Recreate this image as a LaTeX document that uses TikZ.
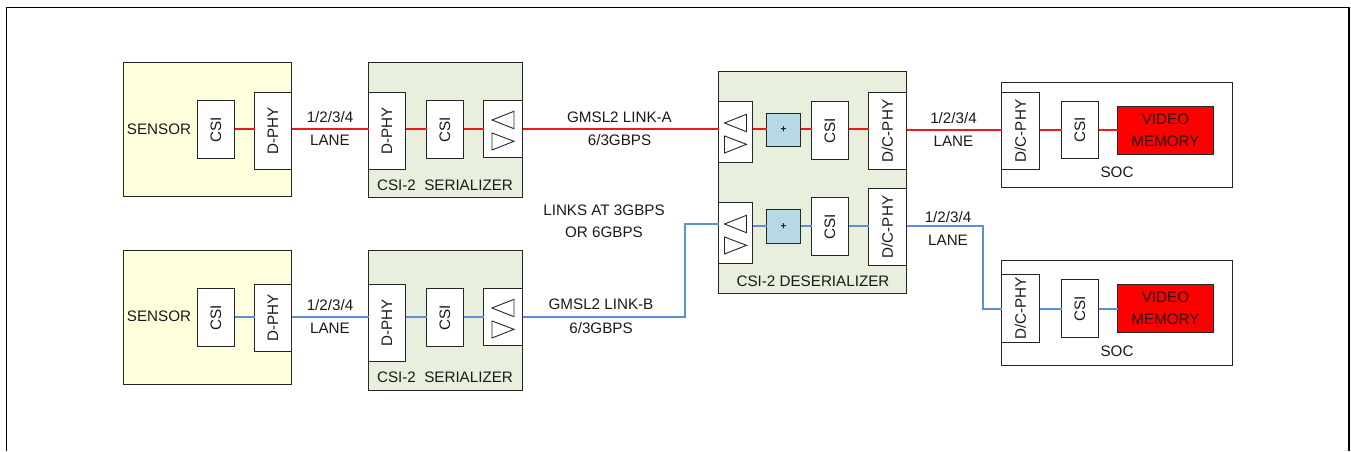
\documentclass[tikz,border=0pt]{standalone}
\usepackage{fontspec}
\setmainfont{Liberation Sans}
\definecolor{sensorfill}{HTML}{FFFFDD}
\definecolor{serfill}{HTML}{E8EFDD}
\definecolor{plusfill}{HTML}{B7D9E6}
\definecolor{edge}{HTML}{262626}
\definecolor{txt}{HTML}{1A1A1A}
\definecolor{redline}{HTML}{F01818}
\definecolor{blueline}{HTML}{5B90D8}
\tikzset{
  blockbox/.style={draw=edge,line width=1.2pt,inner sep=0pt,outer sep=0pt,text=txt,align=center},
  whitebox/.style={blockbox,fill=white},
  sensorbox/.style={blockbox,fill=sensorfill},
  serbox/.style={blockbox,fill=serfill},
  plusbox/.style={blockbox,fill=plusfill},
  membox/.style={blockbox,fill=red},
  lbl/.style={inner sep=0pt,outer sep=0pt,text=txt,align=center},
  redwire/.style={draw=redline,line width=1.6pt},
  bluewire/.style={draw=blueline,line width=1.6pt},
  trishape/.style={draw=edge,line width=.9pt,line join=miter},
}
% name, x1, y1, x2, y2, style, text  (edges snapped to pixel centres)
\newcommand{\blk}[7]{%
  \pgfmathsetmacro{\xa}{floor(#2)+.5}\pgfmathsetmacro{\xb}{floor(#4)+.5}%
  \pgfmathsetmacro{\ya}{floor(#3)+.5}\pgfmathsetmacro{\yb}{floor(#5)+.5}%
  \pgfmathsetmacro{\bw}{\xb-\xa}\pgfmathsetmacro{\bh}{\yb-\ya}%
  \node[#6,minimum width=\bw pt,minimum height=\bh pt] (#1) at ({(\xa+\xb)/2},{(\ya+\yb)/2}) {#7};}
\newcommand{\vtxt}[1]{\rotatebox{90}{#1}}
% triangle pair: offsets around the centre of the named box
\newcommand{\tripair}[1]{%
  \draw[trishape] ([shift={(-11,-9)}]#1.center) -- ([shift={(11,-17.7)}]#1.center) -- ([shift={(11,-.3)}]#1.center) -- cycle;
  \draw[trishape] ([shift={(-11,4)}]#1.center) -- ([shift={(11,12.3)}]#1.center) -- ([shift={(-11,21)}]#1.center) -- cycle;}
\begin{document}
\begin{tikzpicture}[x=1pt,y=-1pt,font=\fontsize{15.2}{18}\selectfont]
\useasboundingbox (0,0) rectangle (1351,451);
\coordinate (fa) at (6.5,451); \coordinate (fb) at (6.5,7.5); \coordinate (fc) at (1349,7.5); \coordinate (fd) at (1349,451);
\draw[black,line width=1.4pt] (fa) -- (fb) -- (fc) -- (fd);

% y levels of the wires
\coordinate (ya) at (0,129);
\coordinate (yb) at (0,317);
\coordinate (yc) at (0,224);
\coordinate (yd) at (0,226);
\coordinate (ye) at (0,130);
\coordinate (yf) at (0,309);
\coordinate (xb) at (685,0);
\coordinate (xd) at (983,0);

% containers
\blk{sensA}{123.5}{62.5}{291.7}{196}{sensorbox}{}
\blk{serA}{368.7}{62.5}{522.3}{197.7}{serbox}{}
\blk{sensB}{123.5}{250}{291.7}{384.3}{sensorbox}{}
\blk{serB}{368.7}{250}{522.3}{390}{serbox}{}
\blk{des}{718.3}{71.7}{906.3}{293.3}{serbox}{}
\blk{socA}{1001.7}{82}{1232.3}{187.3}{whitebox}{}
\blk{socB}{1001.7}{260.3}{1232.3}{365.7}{whitebox}{}

% top row blocks
\blk{sAcsi}{197}{100}{234.3}{158}{whitebox}{\vtxt{CSI}}
\blk{sAphy}{254.5}{92.5}{291.7}{169}{whitebox}{\vtxt{D-PHY}}
\blk{rAphy}{368.7}{92.5}{405.7}{169}{whitebox}{\vtxt{D-PHY}}
\blk{rAcsi}{426.3}{100}{463.3}{158}{whitebox}{\vtxt{CSI}}
\blk{rAtri}{483.7}{100}{522.3}{157}{whitebox}{}
\blk{dAtri}{718.3}{101.7}{752.7}{162.3}{whitebox}{}
\blk{dAplus}{766.3}{113}{800.3}{146.7}{plusbox}{\fontsize{10}{12}\selectfont\bfseries +}
\blk{dAcsi}{811.3}{101}{848.3}{159}{whitebox}{\vtxt{CSI}}
\blk{dAphy}{868.3}{92.3}{906.3}{169}{whitebox}{\vtxt{D/C-PHY}}
\blk{cAphy}{1001.7}{92}{1039}{169}{whitebox}{\vtxt{D/C-PHY}}
\blk{cAcsi}{1061.3}{101}{1098}{158.7}{whitebox}{\vtxt{CSI}}
\blk{cAmem}{1117}{106.7}{1213.3}{154.7}{membox}{VIDEO\\[3.5pt]MEMORY}

% bottom row blocks
\blk{sBcsi}{197}{288.3}{234.3}{346}{whitebox}{\vtxt{CSI}}
\blk{sBphy}{254.5}{284.3}{291.7}{351.3}{whitebox}{\vtxt{D-PHY}}
\blk{rBphy}{368.7}{284.3}{405.7}{361}{whitebox}{\vtxt{D-PHY}}
\blk{rBcsi}{426.3}{288.3}{463.3}{346}{whitebox}{\vtxt{CSI}}
\blk{rBtri}{483.7}{288.3}{522.3}{345.7}{whitebox}{}
\blk{dBtri}{718.3}{202.7}{752.7}{263.7}{whitebox}{}
\blk{dBplus}{766.3}{209.7}{800.3}{243.7}{plusbox}{\fontsize{10}{12}\selectfont\bfseries +}
\blk{dBcsi}{811.3}{197.7}{848.3}{255.3}{whitebox}{\vtxt{CSI}}
\blk{dBphy}{868.3}{188.3}{906.3}{265}{whitebox}{\vtxt{D/C-PHY}}
\blk{cBphy}{1001.7}{274.7}{1039}{342}{whitebox}{\vtxt{D/C-PHY}}
\blk{cBcsi}{1061.3}{279.3}{1098}{337.3}{whitebox}{\vtxt{CSI}}
\blk{cBmem}{1117}{284.3}{1213.3}{332.3}{membox}{VIDEO\\[3.5pt]MEMORY}

\tripair{rAtri}\tripair{rBtri}\tripair{dAtri}\tripair{dBtri}

% red wires
\draw[redwire] (sAcsi.east|-ya) -- (sAphy.west|-ya);
\draw[redwire] (sAphy.east|-ya) -- (rAphy.west|-ya);
\draw[redwire] (rAphy.east|-ya) -- (rAcsi.west|-ya);
\draw[redwire] (rAcsi.east|-ya) -- (rAtri.west|-ya);
\draw[redwire] (rAtri.east|-ya) -- (dAtri.west|-ya);
\draw[redwire] (dAtri.east|-ya) -- (dAplus.west|-ya);
\draw[redwire] (dAplus.east|-ya) -- (dAcsi.west|-ya);
\draw[redwire] (dAcsi.east|-ya) -- (dAphy.west|-ya);
\draw[redwire] (dAphy.east|-ye) -- (cAphy.west|-ye);
\draw[redwire] (cAphy.east|-ye) -- (cAcsi.west|-ye);
\draw[redwire] (cAcsi.east|-ye) -- (cAmem.west|-ye);

% blue wires
\draw[bluewire] (sBcsi.east|-yb) -- (sBphy.west|-yb);
\draw[bluewire] (sBphy.east|-yb) -- (rBphy.west|-yb);
\draw[bluewire] (rBphy.east|-yb) -- (rBcsi.west|-yb);
\draw[bluewire] (rBcsi.east|-yb) -- (rBtri.west|-yb);
\draw[bluewire] (rBtri.east|-yb) -- (xb|-yb) -- (xb|-yc) -- (dBtri.west|-yc);
\draw[bluewire] (dBtri.east|-yd) -- (dBplus.west|-yd);
\draw[bluewire] (dBplus.east|-yd) -- (dBcsi.west|-yd);
\draw[bluewire] (dBcsi.east|-yd) -- (dBphy.west|-yd);
\draw[bluewire] (dBphy.east|-yd) -- (xd|-yd) -- (xd|-yf) -- (cBphy.west|-yf);
\draw[bluewire] (cBphy.east|-yf) -- (cBcsi.west|-yf);
\draw[bluewire] (cBcsi.east|-yf) -- (cBmem.west|-yf);

% labels
\node[lbl] (l1) at (159,129) {SENSOR};
\node[lbl] (l2) at (159,316.5) {SENSOR};
\node[lbl] (l3) at (445,185.5) {CSI-2\hspace{.55em}SERIALIZER};
\node[lbl] (l4) at (445,377.5) {CSI-2\hspace{.55em}SERIALIZER};
\node[lbl] (l5) at (813,281) {CSI-2 DESERIALIZER};
\node[lbl] (l6) at (1117,172.5) {SOC};
\node[lbl] (l7) at (1117,351.5) {SOC};
\node[lbl] (l8) at (330,117.5) {1/2/3/4};
\node[lbl] (l9) at (330,140) {LANE};
\node[lbl] (l10) at (330,305) {1/2/3/4};
\node[lbl] (l11) at (330,328) {LANE};
\node[lbl] (l12) at (619.5,117.5) {GMSL2 LINK-A};
\node[lbl] (l13) at (619.5,140.5) {6/3GBPS};
\node[lbl] (l14) at (604,210) {LINKS AT 3GBPS};
\node[lbl] (l15) at (604,232.5) {OR 6GBPS};
\node[lbl] (l16) at (601,304.5) {GMSL2 LINK-B};
\node[lbl] (l17) at (601,328) {6/3GBPS};
\node[lbl] (l18) at (953.5,118.5) {1/2/3/4};
\node[lbl] (l19) at (953.5,141) {LANE};
\node[lbl] (l20) at (948,217.5) {1/2/3/4};
\node[lbl] (l21) at (948,240) {LANE};
\end{tikzpicture}
\end{document}
